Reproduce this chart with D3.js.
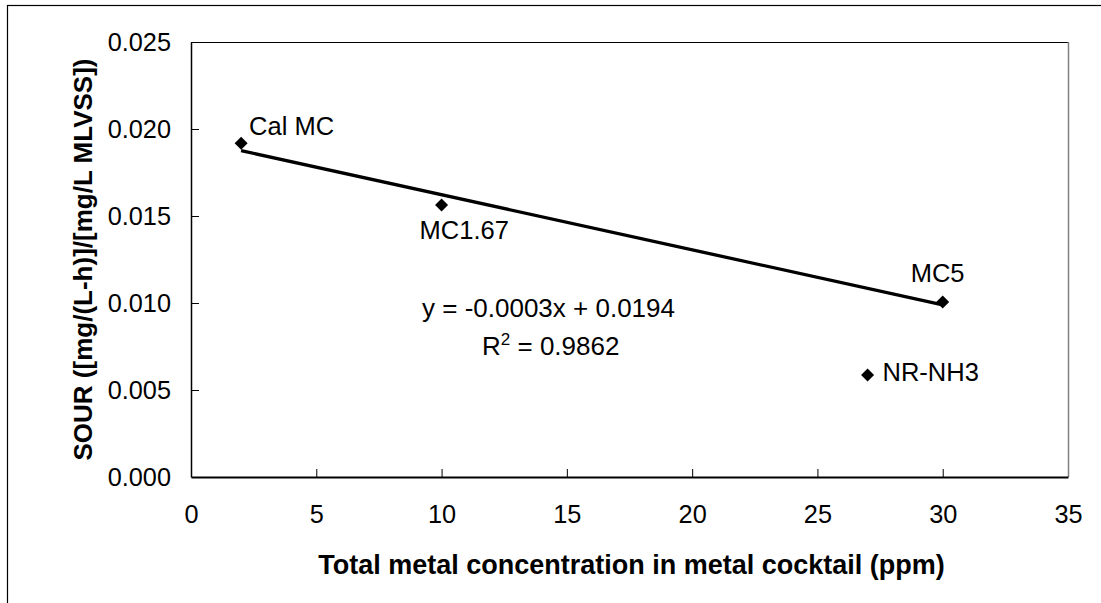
<!DOCTYPE html>
<html>
<head>
<meta charset="utf-8">
<script src="https://cdn.jsdelivr.net/npm/d3@7"></script>
<style>
  html, body { margin: 0; padding: 0; background: #fff; }
  svg { display: block; }
  text { font-family: "Liberation Sans", Arial, sans-serif; fill: #000; }
</style>
</head>
<body>
<svg id="chart" width="1101" height="603"></svg>
<script>
// Sample names, total metal concentration (ppm) and SOUR values
const sampleNames = ["Cal MC", "MC1.67", "MC5", "NR-NH3"];
const concentration = [2, 10, 30, 27];
const sour = [0.01918, 0.01563, 0.01006, 0.00586];
// Samples used for the linear trend line
const trendSamples = ["Cal MC", "MC1.67", "MC5"];
const trendEquation = "y = -0.0003x + 0.0194";
const trendR2 = "0.9862";
const xTicks = [0, 5, 10, 15, 20, 25, 30, 35];
const yTicks = [0, 0.005, 0.010, 0.015, 0.020, 0.025];

// Label placement relative to each marker
const labelOffsets = { "Cal MC": [8, -8], "MC1.67": [-22, 34], "MC5": [-32, -20], "NR-NH3": [15, 6] };

const svg = d3.select("#chart");
const plot = { left: 191, top: 42, right: 1068, bottom: 477 };

const x = d3.scaleLinear().domain([0, 35]).range([plot.left, plot.right]);
const y = d3.scaleLinear().domain([0, 0.025]).range([plot.bottom, plot.top]);

// Outer chart frame
svg.append("rect")
  .attr("x", 7.5).attr("y", 5.5).attr("width", 1200).attr("height", 700)
  .attr("fill", "none").attr("stroke", "#000").attr("stroke-width", 1.2);

// Plot area border (top and right)
svg.append("line").attr("x1", plot.left).attr("x2", plot.right)
  .attr("y1", plot.top + 0.5).attr("y2", plot.top + 0.5)
  .attr("stroke", "#000").attr("stroke-width", 1);
svg.append("line").attr("x1", plot.right + 0.5).attr("x2", plot.right + 0.5)
  .attr("y1", plot.top).attr("y2", plot.bottom)
  .attr("stroke", "#808080").attr("stroke-width", 1.5);

// Axes
const yAxis = svg.append("g")
  .attr("transform", `translate(${plot.left},0)`)
  .call(d3.axisLeft(y).tickValues(yTicks).tickFormat(d3.format(".3f"))
    .tickSizeInner(-8).tickSizeOuter(0).tickPadding(20));
const xAxis = svg.append("g")
  .attr("transform", `translate(0,${plot.bottom})`)
  .call(d3.axisBottom(x).tickValues(xTicks).tickFormat(d3.format("d"))
    .tickSizeInner(-8).tickSizeOuter(0).tickPadding(28));

yAxis.select(".domain").attr("stroke", "#000").attr("stroke-width", 1.5);
xAxis.select(".domain").attr("stroke", "#000").attr("stroke-width", 2);
[xAxis, yAxis].forEach(g => {
  g.selectAll(".tick line").attr("stroke", "#000").attr("stroke-width", 1);
  g.selectAll(".tick text").attr("font-family", "Liberation Sans, Arial, sans-serif")
    .attr("font-size", 25.3).attr("fill", "#000");
});
xAxis.selectAll(".tick").filter(d => d === 0 || d === 35).select("line").remove();
yAxis.selectAll(".tick").filter(d => d === 0).select("line").remove();

// Axis titles
svg.append("text")
  .attr("x", (plot.left + plot.right) / 2 + 2).attr("y", 574)
  .attr("text-anchor", "middle").attr("font-weight", "bold").attr("font-size", 27)
  .text("Total metal concentration in metal cocktail (ppm)");
svg.append("text")
  .attr("transform", `translate(92,${(plot.top + plot.bottom) / 2}) rotate(-90)`)
  .attr("text-anchor", "middle").attr("font-weight", "bold").attr("font-size", 26)
  .text("SOUR ([mg/(L-h)]/[mg/L MLVSS])");

// Least-squares trend line through the metal cocktail samples
const points = sampleNames.map((n, i) => ({ name: n, x: concentration[i], y: sour[i] }));
const fitPts = points.filter(p => trendSamples.includes(p.name));
const mx = d3.mean(fitPts, p => p.x), my = d3.mean(fitPts, p => p.y);
const slope = d3.sum(fitPts, p => (p.x - mx) * (p.y - my)) / d3.sum(fitPts, p => (p.x - mx) ** 2);
const intercept = my - slope * mx;
const [x0, x1] = d3.extent(fitPts, p => p.x);
svg.append("line")
  .attr("x1", x(x0)).attr("y1", y(slope * x0 + intercept))
  .attr("x2", x(x1)).attr("y2", y(slope * x1 + intercept))
  .attr("stroke", "#000").attr("stroke-width", 3.3);

// Diamond markers
svg.selectAll(".pt").data(points).enter().append("path")
  .attr("class", "pt")
  .attr("transform", d => `translate(${x(d.x)},${y(d.y)})`)
  .attr("d", "M0,-6.5L6.5,0L0,6.5L-6.5,0Z")
  .attr("fill", "#000");

// Data labels
svg.selectAll(".lbl").data(points).enter().append("text")
  .attr("class", "lbl")
  .attr("x", d => x(d.x) + labelOffsets[d.name][0])
  .attr("y", d => y(d.y) + labelOffsets[d.name][1])
  .attr("font-size", 25.5)
  .text(d => d.name);

// Trend line equation and R²
svg.append("text").attr("x", 422).attr("y", 317).attr("font-size", 26).text(trendEquation);
const r2 = svg.append("text").attr("x", 482).attr("y", 355).attr("font-size", 26);
r2.append("tspan").text("R");
r2.append("tspan").attr("dy", -10).attr("font-size", 17).text("2");
r2.append("tspan").attr("dy", 10).text(" = " + trendR2);
</script>
</body>
</html>
